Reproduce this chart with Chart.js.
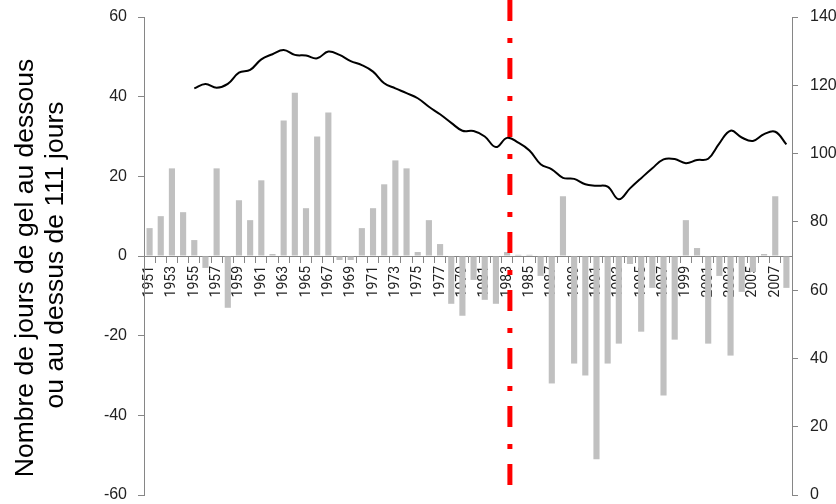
<!DOCTYPE html>
<html>
<head>
<meta charset="utf-8">
<script src="https://cdn.jsdelivr.net/npm/chart.js@4.4.1/dist/chart.umd.min.js"></script>
<style>
  html, body { margin: 0; padding: 0; background: #ffffff; }
  #wrap { width: 836px; height: 504px; }
</style>
</head>
<body>
<div id="wrap"><canvas id="c" width="836" height="504"></canvas></div>
<script>
// Years of record
const years = [
  '1951','1952','1953','1954','1955','1956','1957','1958','1959','1960',
  '1961','1962','1963','1964','1965','1966','1967','1968','1969','1970',
  '1971','1972','1973','1974','1975','1976','1977','1978','1979','1980',
  '1981','1982','1983','1984','1985','1986','1987','1988','1989','1990',
  '1991','1992','1993','1994','1995','1996','1997','1998','1999','2000',
  '2001','2002','2003','2004','2005','2006','2007','2008'
];

// Frost days above (+) or below (-) the 111-day reference, per year
const frostAnomaly = [
   7, 10, 22, 11,  4, -3, 22, -13, 14,  9,
  19, 0.5, 34, 41, 12, 30, 36, -1, -1,  7,
  12, 18, 24, 22,  1,  9,  3, -12, -15, -6,
 -11, -12,  1, 0.3, 0.3, -5, -32, 15, -27, -30,
 -51, -27, -22, -2, -19, -8, -35, -21,  9,  2,
 -22, -5, -25, -9, -4, 0.5, 15, -8
];

// Smoothed number of frost days (right axis)
const frostSmoothed = [
  null, null, null, null, 119.1, 120.4, 119.3, 120.4, 123.7, 124.5,
  127.6, 129.1, 130.3, 128.9, 128.7, 127.9, 129.9, 128.9, 127.1, 125.9,
  124.0, 120.6, 119.1, 117.7, 116.2, 113.7, 111.5, 109.0, 106.7, 106.6,
  105.0, 101.9, 104.6, 103.2, 100.9, 96.9, 95.4, 92.9, 92.6, 91.0,
  90.6, 90.3, 86.6, 89.8, 92.8, 95.7, 98.3, 98.4, 97.2, 98.1,
  98.5, 103.0, 106.7, 104.7, 103.7, 105.7, 106.4, 102.7
];

// Axis tick values
const leftTicks = [-60, -40, -20, 0, 20, 40, 60];
const rightTicks = [0, 20, 40, 60, 80, 100, 120, 140];

// Break year marked by the vertical dash-dot line
const breakYear = '1983';

const titleLines = ['Nombre de jours de gel au dessous', 'ou au dessus de 111 jours'];

const axisGrey = '#868686';
const tickFont = { family: '"Liberation Sans", Arial, sans-serif', size: 16 };

// Two-line rotated title of the left axis
const leftTitle = {
  id: 'leftTitle',
  afterDraw(chart) {
    const ctx = chart.ctx;
    const spots = [[33, 268], [63, 255]];
    ctx.save();
    ctx.font = '26.5px "Liberation Sans", Arial, sans-serif';
    ctx.fillStyle = '#000000';
    ctx.textAlign = 'center';
    ctx.textBaseline = 'alphabetic';
    titleLines.forEach((line, i) => {
      ctx.save();
      ctx.translate(spots[i][0], spots[i][1]);
      ctx.rotate(-Math.PI / 2);
      ctx.fillText(line, 0, 0);
      ctx.restore();
    });
    ctx.restore();
  }
};

// Red dash-dot line at the break year
const breakLine = {
  id: 'breakLine',
  afterDatasetsDraw(chart) {
    const { ctx, chartArea, scales } = chart;
    const xs = scales.x;
    const idx = years.indexOf(breakYear);
    const step = xs.getPixelForValue(1) - xs.getPixelForValue(0);
    const px = xs.getPixelForValue(idx) + 0.25 * step;
    ctx.save();
    ctx.strokeStyle = '#ff0000';
    ctx.lineWidth = 5;
    ctx.setLineDash([21, 17, 5, 15]);
    ctx.beginPath();
    ctx.moveTo(px, 0);
    ctx.lineTo(px, chartArea.bottom);
    ctx.stroke();
    ctx.restore();
  }
};

// Fixed axis width; tick label overhang must not shrink the plot
function fixWidth(w) {
  return function (scale) {
    scale.width = w;
    scale.paddingTop = 0;
    scale.paddingBottom = 0;
  };
}

new Chart(document.getElementById('c'), {
  data: {
    labels: years,
    datasets: [
      {
        type: 'line',
        data: frostSmoothed,
        yAxisID: 'y1',
        borderColor: '#000000',
        borderWidth: 2,
        pointRadius: 0,
        tension: 0.4,
        fill: false,
        spanGaps: false,
        order: 0
      },
      {
        type: 'bar',
        data: frostAnomaly,
        yAxisID: 'y',
        backgroundColor: '#c0c0c0',
        borderWidth: 0,
        barPercentage: 0.55,
        categoryPercentage: 1.0,
        order: 1
      }
    ]
  },
  options: {
    responsive: false,
    maintainAspectRatio: false,
    devicePixelRatio: 1,
    animation: false,
    events: [],
    layout: { padding: { top: 17, bottom: 9, left: 0, right: 0 } },
    plugins: {
      legend: { display: false },
      tooltip: { enabled: false },
      title: { display: false }
    },
    scales: {
      x: {
        type: 'category',
        position: { y: 0 },
        offset: true,
        grid: {
          display: true,
          drawOnChartArea: false,
          drawTicks: true,
          tickLength: 6,
          color: axisGrey,
          offset: true
        },
        border: { display: true, color: axisGrey, width: 1 },
        ticks: {
          autoSkip: false,
          minRotation: 90,
          maxRotation: 90,
          padding: 4,
          color: '#222222',
          font: { family: 'Roboto, sans-serif', size: 14 },
          callback(value, index) {
            const y = years[index];
            return Number(y) % 2 === 1 ? y : '';
          }
        }
      },
      y: {
        type: 'linear',
        position: 'left',
        min: leftTicks[0],
        max: leftTicks[leftTicks.length - 1],
        grid: { drawOnChartArea: false, tickLength: 6, color: axisGrey },
        border: { display: true, color: axisGrey, width: 1 },
        ticks: {
          stepSize: leftTicks[1] - leftTicks[0],
          padding: 11,
          color: '#222222',
          font: tickFont
        },
        afterFit: fixWidth(144)
      },
      y1: {
        type: 'linear',
        position: 'right',
        min: rightTicks[0],
        max: rightTicks[rightTicks.length - 1],
        grid: { drawOnChartArea: false, tickLength: 6, color: axisGrey },
        border: { display: true, color: axisGrey, width: 1 },
        ticks: {
          stepSize: rightTicks[1] - rightTicks[0],
          padding: 12,
          color: '#222222',
          font: tickFont
        },
        afterFit: fixWidth(44)
      }
    }
  },
  plugins: [leftTitle, breakLine]
});
</script>
</body>
</html>
